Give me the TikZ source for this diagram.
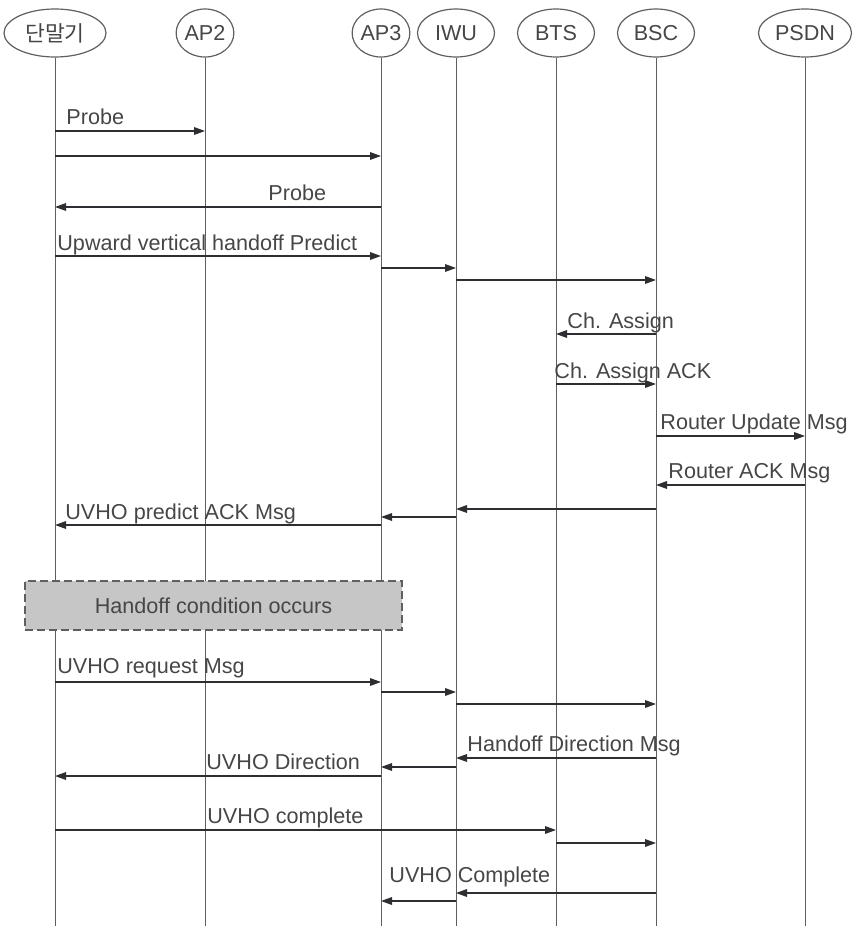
\documentclass[tikz,border=0pt]{standalone}
\usepackage{fontspec}
\setmainfont{Liberation Sans}
\newfontfamily\kor{Noto Sans CJK KR}
\usetikzlibrary{shapes.geometric,arrows.meta}
\definecolor{lifegray}{RGB}{95,95,95}
\definecolor{msgdark}{RGB}{45,45,50}
\definecolor{boxgray}{RGB}{198,198,198}
\definecolor{txtgray}{RGB}{70,70,70}

\begin{document}
\begin{tikzpicture}[x=0.5pt,y=-0.5pt,
  head/.style={ellipse,draw=lifegray,line width=0.6pt,inner sep=0pt,minimum height=24pt,text=txtgray,font=\fontsize{10.8}{12}\selectfont},
  life/.style={draw=lifegray,line width=0.5pt},
  msg/.style={draw=msgdark,line width=0.7pt,-{Triangle[length=5.5pt,width=3.8pt]}},
  lbl/.style={anchor=base west,inner sep=0pt,text=txtgray,font=\fontsize{10.8}{12}\selectfont}]
  \useasboundingbox (0,0) rectangle (854,926);

  % 개체
  \node[head,minimum width=51pt] (ms) at (55,33) {\kor 단말기};
  \node[head,minimum width=26.5pt] (ap2) at (205,33) {AP2};
  \node[head,minimum width=26pt] (ap3) at (381,33) {AP3};
  \node[head,minimum width=38.5pt] (iwu) at (456,33) {IWU};
  \node[head,minimum width=38.5pt] (bts) at (556,33) {BTS};
  \node[head,minimum width=38.5pt] (bsc) at (656,33) {BSC};
  \node[head,minimum width=46.5pt] (psdn) at (805,33) {PSDN};

  % 생명선
  \coordinate (bottom) at (0,926);
  \foreach \n in {ms,ap2,ap3,iwu,bts,bsc,psdn}
    \draw[life] (\n.south) -- (\n |- bottom);

  % Probe
  \draw[msg] (ms |- 0,131) -- (ap2 |- 0,131);
  \node[lbl] (probea) at (66,124) {Probe};
  \draw[msg] (ms |- 0,156) -- (ap3 |- 0,156);
  \draw[msg] (ap3 |- 0,207) -- (ms |- 0,207);
  \node[lbl] (probeb) at (268,200) {Probe};

  % 예측
  \draw[msg] (ms |- 0,256) -- (ap3 |- 0,256);
  \node[lbl] (predict) at (57,250) {Upward vertical handoff Predict};
  \draw[msg] (ap3 |- 0,268) -- (iwu |- 0,268);
  \draw[msg] (iwu |- 0,280) -- (bsc |- 0,280);

  % 채널 할당
  \draw[msg] (bsc |- 0,334) -- (bts |- 0,334);
  \node[lbl] (assign) at (567,328) {Ch. Assign};
  \draw[msg] (bts |- 0,384) -- (bsc |- 0,384);
  \node[lbl] (assignack) at (554,378) {Ch. Assign ACK};

  % 라우터 갱신
  \draw[msg] (bsc |- 0,436) -- (psdn |- 0,436);
  \node[lbl] (rupdate) at (660,429) {Router Update Msg};
  \draw[msg] (psdn |- 0,485) -- (bsc |- 0,485);
  \node[lbl] (rack) at (668,478) {Router ACK Msg};

  % 예측 응답
  \draw[msg] (bsc |- 0,509) -- (iwu |- 0,509);
  \draw[msg] (iwu |- 0,517) -- (ap3 |- 0,517);
  \draw[msg] (ap3 |- 0,525) -- (ms |- 0,525);
  \node[lbl] (predack) at (65,519) {UVHO predict ACK Msg};

  % 핸드오프 조건
  \node[draw=lifegray,fill=boxgray,dash pattern=on 4pt off 2pt,line width=0.8pt,
        minimum width=188.5pt,minimum height=24.5pt,inner sep=0pt,text=txtgray,
        font=\fontsize{10.8}{12}\selectfont] (cond) at (213.5,605.5) {Handoff condition occurs};

  % 요청
  \draw[msg] (ms |- 0,682) -- (ap3 |- 0,682);
  \node[lbl] (request) at (57,673) {UVHO request Msg};
  \draw[msg] (ap3 |- 0,692) -- (iwu |- 0,692);
  \draw[msg] (iwu |- 0,704) -- (bsc |- 0,704);

  % 지시
  \draw[msg] (bsc |- 0,758) -- (iwu |- 0,758);
  \node[lbl] (hdir) at (467,751) {Handoff Direction Msg};
  \draw[msg] (iwu |- 0,767) -- (ap3 |- 0,767);
  \draw[msg] (ap3 |- 0,776) -- (ms |- 0,776);
  \node[lbl] (udir) at (206,769) {UVHO Direction};

  % 완료
  \draw[msg] (ms |- 0,830) -- (bts |- 0,830);
  \node[lbl] (done) at (207,823) {UVHO complete};
  \draw[msg] (bts |- 0,843) -- (bsc |- 0,843);
  \draw[msg] (bsc |- 0,893) -- (iwu |- 0,893);
  \node[lbl] (doneb) at (389,882) {UVHO Complete};
  \draw[msg] (iwu |- 0,901) -- (ap3 |- 0,901);
\end{tikzpicture}
\end{document}
